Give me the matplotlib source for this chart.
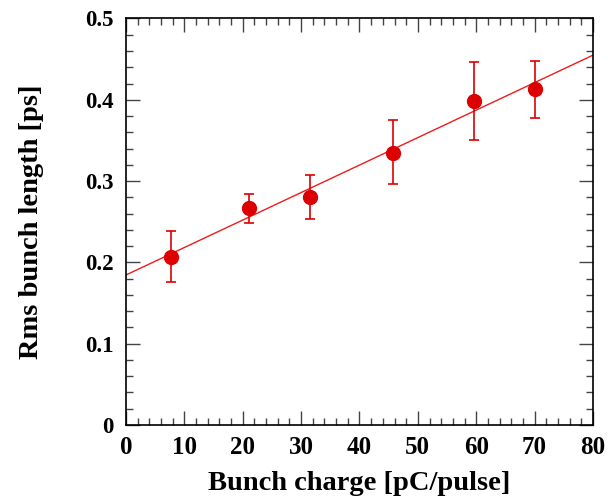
import numpy as np
import matplotlib
matplotlib.use("Agg")
import matplotlib.pyplot as plt
from matplotlib.ticker import MultipleLocator, FuncFormatter

# bunch charge [pC/pulse] and rms bunch length [ps]
charge = [7.7, 21.0, 31.5, 45.7, 59.6, 70.1]
length = [0.207, 0.2665, 0.280, 0.335, 0.3985, 0.413]
err_up = [0.238, 0.2845, 0.308, 0.375, 0.446, 0.448]
err_lo = [0.176, 0.249, 0.253, 0.296, 0.351, 0.378]

# linear fit
fit_intercept = 0.1845
fit_slope = 0.00338
fit_x = [0, 80]

plt.rcParams['font.family'] = ['Liberation Serif', 'DejaVu Serif']
plt.rcParams['font.weight'] = 'bold'

fig = plt.figure(figsize=(6.08, 4.98), dpi=100)
ax = fig.add_axes([0.2072, 0.1466, 0.7681, 0.8163])

length = np.array(length)
yerr = [length - np.array(err_lo), np.array(err_up) - length]

fx = np.array(fit_x)
ax.plot(fx, fit_intercept + fit_slope * fx, color='#ee1c1c', lw=1.0, zorder=2)
ax.errorbar(charge, length, yerr=yerr, fmt='o', color='#dd0000', ms=10,
            ecolor='#dd0000', elinewidth=1.2, capsize=3.6, capthick=1.2, zorder=3)

ax.set_xlim(0, 80)
ax.set_ylim(0, 0.5)
ax.xaxis.set_major_locator(MultipleLocator(10))
ax.xaxis.set_minor_locator(MultipleLocator(2))
ax.yaxis.set_major_locator(MultipleLocator(0.1))
ax.yaxis.set_minor_locator(MultipleLocator(0.02))
ax.yaxis.set_major_formatter(FuncFormatter(lambda v, p: '0' if abs(v) < 1e-9 else '%.1f' % v))
ax.tick_params(which='both', direction='in', top=True, right=True, color='#444444')
ax.tick_params(axis='x', labelsize=18, pad=8)
ax.tick_params(axis='y', labelsize=16.5, pad=9)
ax.tick_params(which='major', length=10, width=1)
ax.tick_params(which='minor', length=5, width=1)
for s in ax.spines.values():
    s.set_linewidth(1.2)

ax.set_xlabel('Bunch charge [pC/pulse]', fontsize=20.5, fontweight='bold')
ax.set_ylabel('Rms bunch length [ps]', fontsize=20.5, fontweight='bold')
ax.xaxis.set_label_coords(0.5, -0.112)
ax.yaxis.set_label_coords(-0.175, 0.5)

fig.savefig('out.png', dpi=100)
